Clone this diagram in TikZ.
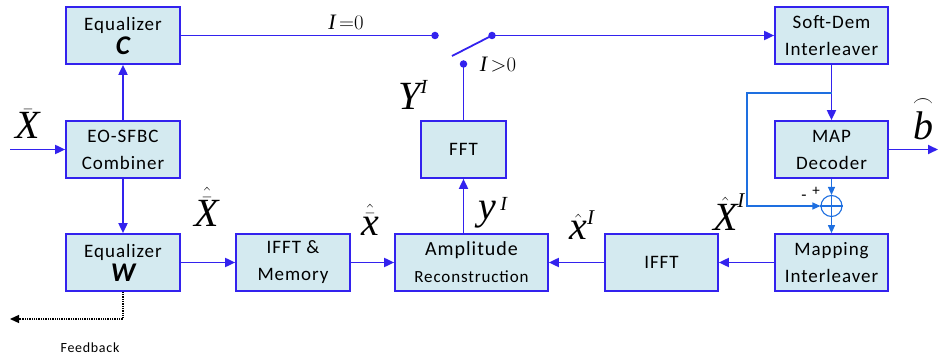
\documentclass[tikz,border=0pt]{standalone}
\usepackage{amsmath}
\usepackage{fontspec}
\setmainfont{Carlito}[LetterSpace=5]
\newfontfamily\timesf{Liberation Serif}
\usetikzlibrary{arrows.meta}
\definecolor{boxline}{HTML}{3322EE}
\definecolor{boxfill}{HTML}{D4EAF0}
\definecolor{thinblue}{HTML}{1E6FE0}
\newcommand{\tm}[1]{\mbox{\timesf\itshape #1}}
\newcommand{\supI}[1]{\mbox{\fontsize{#1}{#1}\selectfont\timesf\itshape I}}
\newcommand{\hatgap}[1]{\hat{\mbox{\raisebox{0pt}[\dimexpr\height+3pt\relax]{$#1$}}}}
\tikzset{
  blk/.style={draw=boxline, fill=boxfill, line width=1.7pt, minimum height=57pt, align=center, inner sep=1pt, font=\fontsize{19}{27}\selectfont},
  conn/.style={draw=boxline, line width=1.8pt, -{Triangle[length=10pt,width=9pt]}},
  plain/.style={draw=boxline, line width=1.8pt},
  thin/.style={draw=thinblue, line width=1.1pt, -{Triangle[length=8pt,width=7pt]}},
  dotn/.style={circle, fill=boxline, inner sep=0, minimum size=7.5pt},
  mlab/.style={inner sep=0, font=\fontsize{40}{44}\selectfont},
  slab/.style={inner sep=0, font=\fontsize{22}{24}\selectfont},
}
\begin{document}
\begin{tikzpicture}[x=1pt,y=-1pt]
\useasboundingbox (0,0) rectangle (938,358);
% boxes
\node[blk, minimum width=114pt] (eqc) at (123,35.5) {Equalizer\\[-3pt]{\fontsize{27}{27}\selectfont\bfseries\itshape C}};
\node[blk, minimum width=114pt] (comb) at (123,149.5) {EO-SFBC\\Combiner};
\node[blk, minimum width=114pt] (eqw) at (123,262.5) {Equalizer\\[-3pt]{\fontsize{27}{27}\selectfont\bfseries\itshape W}};
\node[blk, minimum width=114pt] (ifftm) at (293,262.5) {IFFT \&\\Memory};
\node[blk, minimum width=153pt] (amp) at (471.5,262.5) {{\fontsize{20}{27}\selectfont Amplitude}\\{\fontsize{17}{20}\selectfont Reconstruction}};
\node[blk, minimum width=113pt] (ifft) at (661.5,262.5) {IFFT};
\node[blk, minimum width=113pt] (mapi) at (831.5,262.5) {Mapping\\Interleaver};
\node[blk, minimum width=113pt] (dec) at (831.5,149.5) {MAP\\Decoder};
\node[blk, minimum width=113pt] (soft) at (831.5,35.5) {Soft-Dem\\Interleaver};
\node[blk, minimum width=85pt] (fft) at (463.5,149.5) {FFT};
% switch
\node[dotn] (sa) at (435,35.5) {};
\node[dotn] (sb) at (492,35.5) {};
\node[dotn] (sc) at (463.5,64) {};
\coordinate (blade) at (452,56);
\draw[plain] (sb.center) -- (blade);
% sum node
\node[draw=thinblue, line width=1.1pt, circle, minimum size=21pt, inner sep=0] (sum) at (831.5,206) {};
\draw[thinblue, line width=1.1pt] (sum.north) -- (sum.south) (sum.west) -- (sum.east);
% in / out coordinates
\coordinate (xin) at (10,149.5);
\coordinate (bout) at (938,149.5);
\coordinate (fbk) at (10,319);
\coordinate (fbtap) at (831.5,93);
\coordinate (fbcorner) at (747,93);
% connectors
\draw[conn] (xin) -- (comb.west);
\draw[conn] (comb.north) -- (eqc.south);
\draw[conn] (comb.south) -- (eqw.north);
\draw[plain] (eqc.east) -- (sa.center);
\draw[conn] (sb.center) -- (soft.west);
\draw[plain] (fft.north) -- (sc.center);
\draw[conn] (amp.north -| fft.south) -- (fft.south);
\draw[conn] (eqw.east) -- (ifftm.west);
\draw[conn] (ifftm.east) -- (amp.west);
\draw[conn] (ifft.west) -- (amp.east);
\draw[conn] (mapi.west) -- (ifft.east);
\draw[conn] (soft.south) -- (dec.north);
\draw[conn] (dec.east) -- (bout);
\draw[thin] (dec.south) -- (sum.north);
\draw[thin] (sum.south) -- (mapi.north);
\draw[thin] (fbtap) -- (fbcorner) |- (sum.west);
\draw[densely dotted, line width=1.3pt, -{Triangle[length=9pt,width=8pt]}] (eqw.south) |- (fbk);
% labels
\node[mlab] (lxbar) at (28,124) {$\bar{\tm{X}}$};
\node[mlab] (lxhb) at (207,207) {$\hatgap{\bar{\tm{X}}}$};
\node[mlab] (lxsm) at (370,220) {$\hatgap{\bar{\tm{x}}}$};
\node[mlab] (lyi) at (493,213) {$\tm{y}^{\,\supI{20}}$};
\node[mlab] (lxhi) at (582,225) {$\hat{\tm{x}}^{\supI{21}}$};
\node[mlab] (lXhi) at (729,212) {$\hat{\tm{X}}^{\supI{21}}$};
\node[mlab] (lYi) at (413,95) {$\tm{Y}^{\supI{20}}$};
\node[slab] (li0) at (346,22) {$\tm{I}\,{=}0$};
\node[slab] (lig) at (498,65) {$\tm{I}\,{>}0$};
\node[mlab] (lb) at (923,118) {$\overset{\scriptscriptstyle\frown}{\tm{b}}$};
\node[inner sep=0, font=\fontsize{17}{17}\selectfont] (lminus) at (804,198) {-};
\node[inner sep=0, font=\fontsize{15}{15}\selectfont] (lplus) at (816,191) {+};
\node[inner sep=0, font=\fontsize{14}{15}\selectfont] (lfb) at (90,348) {Feedback};
\end{tikzpicture}
\end{document}
